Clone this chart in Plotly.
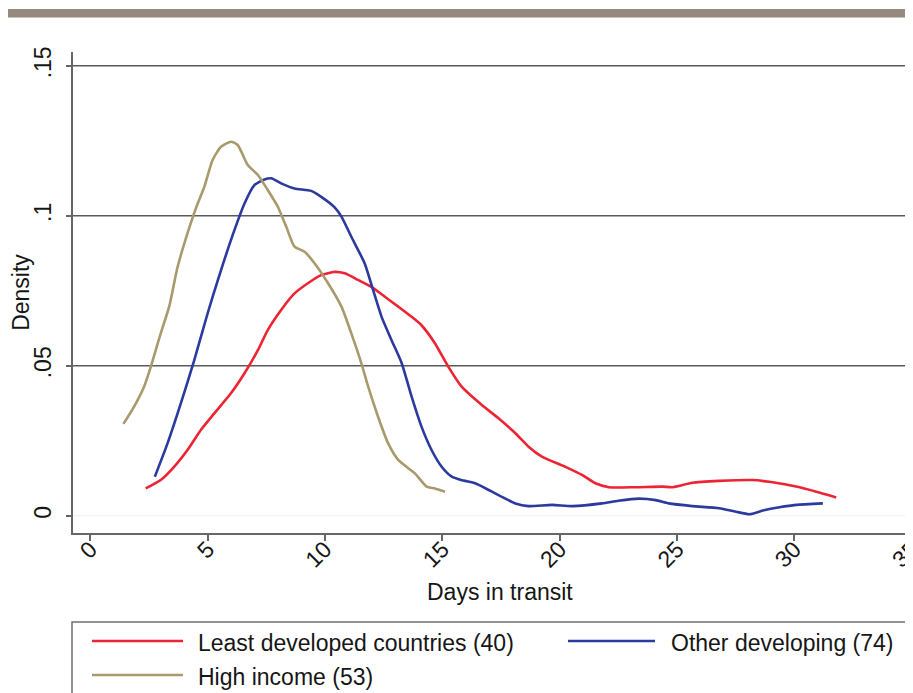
import plotly.graph_objects as go

# ---- data ----
ldc_x = [2.36, 3.0, 3.57, 4.14, 4.71, 5.28, 5.99, 6.57, 7.14, 7.56, 8.13, 8.7, 9.27, 9.84, 10.41,
         10.84, 11.41, 11.98, 12.55, 13.12, 13.69, 14.11, 14.68, 15.25, 15.82, 16.68, 17.39, 18.11,
         18.67, 19.24, 20.24, 20.95, 21.52, 22.09, 23.23, 24.37, 24.8, 25.65, 26.79, 28.22, 28.93,
         30.07, 30.93, 31.78]
ldc_y = [0.0091, 0.0119, 0.0163, 0.0219, 0.0286, 0.0341, 0.0408, 0.0475, 0.0552, 0.0619, 0.0686,
         0.0741, 0.0775, 0.0802, 0.0813, 0.0808, 0.0786, 0.0763, 0.0730, 0.0697, 0.0663, 0.0635,
         0.0575, 0.0497, 0.0430, 0.0369, 0.0325, 0.0275, 0.0230, 0.0197, 0.0163, 0.0136, 0.0108,
         0.0095, 0.0095, 0.0097, 0.0095, 0.0110, 0.0116, 0.0119, 0.0113, 0.0097, 0.0080, 0.0061]

odev_x = [2.75, 3.29, 3.86, 4.43, 5.0, 5.57, 6.14, 6.57, 6.99, 7.42, 7.71, 8.13, 8.7, 9.41, 9.84,
          10.41, 10.7, 11.12, 11.69, 12.05, 12.41, 12.83, 13.26, 13.69, 14.11, 14.54, 14.97, 15.4,
          15.9, 16.4, 17.11, 18.11, 18.67, 19.67, 20.53, 21.8, 22.5, 23.37, 24.09, 24.65, 25.65,
          26.79, 27.51, 28.08, 28.65, 29.36, 30.07, 31.21]
odev_y = [0.0130, 0.0241, 0.0375, 0.0519, 0.0675, 0.0819, 0.0952, 0.1041, 0.1102, 0.1121, 0.1125,
          0.1108, 0.1091, 0.1083, 0.1063, 0.1028, 0.0997, 0.0930, 0.0841, 0.0752, 0.0663, 0.0586,
          0.0510, 0.0397, 0.0297, 0.0219, 0.0163, 0.0130, 0.0117, 0.0108, 0.0080, 0.0041, 0.0032,
          0.0036, 0.0032, 0.0041, 0.0050, 0.0057, 0.0052, 0.0041, 0.0032, 0.0025, 0.0013, 0.0005,
          0.0017, 0.0028, 0.0036, 0.0041]

hi_x = [1.41, 1.86, 2.29, 2.58, 3.0, 3.36, 3.72, 4.14, 4.5, 4.86, 5.21, 5.57, 6.0, 6.28, 6.71,
        7.14, 7.56, 7.99, 8.35, 8.7, 9.13, 9.56, 10.13, 10.7, 11.12, 11.55, 11.84, 12.26, 12.69,
        13.12, 13.83, 14.33, 14.68, 15.11]
hi_y = [0.0306, 0.0363, 0.0430, 0.0497, 0.0608, 0.0697, 0.0830, 0.0941, 0.1025, 0.1097, 0.1186,
        0.1230, 0.1247, 0.1236, 0.1169, 0.1136, 0.1086, 0.1030, 0.0963, 0.0897, 0.0880, 0.0841,
        0.0775, 0.0697, 0.0608, 0.0508, 0.0430, 0.0330, 0.0241, 0.0186, 0.0141, 0.0097, 0.0091,
        0.0080]

series_names = ["Least developed countries (40)", "Other developing (74)", "High income (53)"]
x_ticks = [0, 5, 10, 15, 20, 25, 30, 35]
y_ticks = [0, 0.05, 0.1, 0.15]
y_tick_text = ["0", ".05", ".1", ".15"]
grid_values = [0.05, 0.1, 0.15]
x_title = "Days in transit"
y_title = "Density"

RED = "#ec2434"
BLUE = "#2b3a9e"
TAN = "#a89a6c"
TXT = "#161616"
FONT = "Liberation Sans, Arial, sans-serif"
FS = 23

# page offset of the figure (default body margin), figure size chosen to fill the window
OFF = 8
W, H = 913 - OFF, 693 - OFF
ML, MR, MT = 73 - OFF, 0, 52 - OFF
MB = H - (533 - OFF)


def px_x(p):
    return (p - OFF - ML) / (W - ML - MR)


def px_y(p):
    return (H - MB - (p - OFF)) / (H - MT - MB)


fig = go.Figure()
for xs, ys, name, col in [(ldc_x, ldc_y, series_names[0], RED),
                          (odev_x, odev_y, series_names[1], BLUE),
                          (hi_x, hi_y, series_names[2], TAN)]:
    fig.add_trace(go.Scatter(x=xs, y=ys, mode="lines", name=name,
                             line=dict(color=col, width=2.6, shape="spline", smoothing=0.6),
                             showlegend=False))

shapes = []
for g in grid_values:
    shapes.append(dict(type="line", xref="paper", yref="y", x0=0, x1=1, y0=g, y1=g,
                       line=dict(color="#5a5a5a", width=1.4), layer="below"))
shapes.append(dict(type="line", xref="paper", yref="y", x0=0, x1=1, y0=0, y1=0,
                   line=dict(color="#f0f0f0", width=1), layer="below"))
# top decorative band
shapes.append(dict(type="rect", xref="paper", yref="paper", x0=px_x(8), x1=px_x(920),
                   y0=px_y(17.5), y1=px_y(9), fillcolor="#968a7f", line=dict(width=0)))
# legend box
shapes.append(dict(type="rect", xref="paper", yref="paper", x0=px_x(72), x1=px_x(925),
                   y0=px_y(705), y1=px_y(622), fillcolor="rgba(0,0,0,0)",
                   line=dict(color="#6f6f6f", width=1.5)))

legend_items = [(series_names[0], RED, 92, 183, 196, 643),
                (series_names[1], BLUE, 568, 655, 669, 643),
                (series_names[2], TAN, 92, 183, 196, 677)]
annotations = []
for name, col, lx0, lx1, tx, ty in legend_items:
    shapes.append(dict(type="line", xref="paper", yref="paper", x0=px_x(lx0), x1=px_x(lx1),
                       y0=px_y(ty - 2), y1=px_y(ty - 2), line=dict(color=col, width=2.6)))
    annotations.append(dict(text=name, xref="paper", yref="paper", x=px_x(tx), y=px_y(ty),
                            xanchor="left", yanchor="middle", showarrow=False,
                            font=dict(family=FONT, size=FS, color=TXT)))
# x axis title
annotations.append(dict(text=x_title, xref="paper", yref="paper", x=px_x(500), y=px_y(592),
                        xanchor="center", yanchor="middle", showarrow=False,
                        font=dict(family=FONT, size=FS, color=TXT)))

fig.update_layout(
    width=W, height=H,
    margin=dict(l=ML, r=MR, t=MT, b=MB, autoexpand=False),
    paper_bgcolor="white", plot_bgcolor="white",
    font=dict(family=FONT, color=TXT),
    shapes=shapes, annotations=annotations,
    showlegend=False,
)
fig.update_xaxes(
    range=[-0.737, 35.05], tickvals=x_ticks, tickangle=-45,
    showgrid=False, zeroline=False, automargin=False,
    showline=True, linecolor="#666666", linewidth=1.5,
    ticks="outside", ticklen=6, tickcolor="#666666", tickwidth=1.5,
    ticklabeloverflow="allow", ticklabelstandoff=-14,
    tickfont=dict(size=FS, family=FONT, color=TXT),
)
fig.update_yaxes(
    range=[-0.00577, 0.1546], tickvals=y_ticks, ticktext=y_tick_text, tickangle=-90,
    showgrid=False, zeroline=False, automargin=False,
    showline=True, linecolor="#666666", linewidth=1.5,
    ticks="outside", ticklen=5, tickcolor="#666666", tickwidth=1.5,
    ticklabelstandoff=6,
    tickfont=dict(size=FS, family=FONT, color=TXT),
    title=dict(text=y_title, font=dict(size=FS, family=FONT, color=TXT), standoff=2),
)

fig.write_html("out.html",
               post_script="document.documentElement.style.overflow='hidden';"
                           "document.body.style.overflow='hidden';")
